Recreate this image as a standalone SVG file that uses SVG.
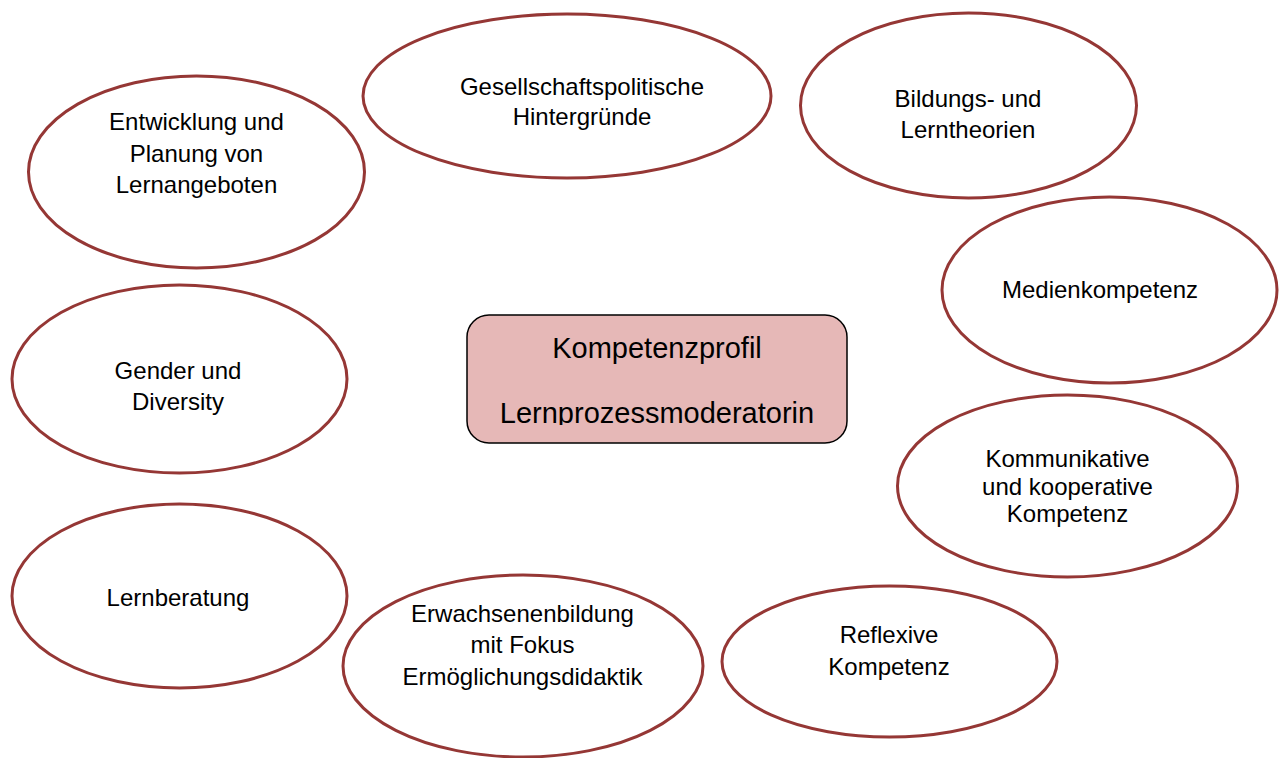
<svg xmlns="http://www.w3.org/2000/svg" width="1286" height="758" viewBox="0 0 1286 758">
<style>
.e{fill:#ffffff;stroke:#953735;stroke-width:3}
.t{font-family:"Liberation Sans",Arial,sans-serif;font-size:24px;fill:#000000;text-anchor:middle}
.c{font-family:"Liberation Sans",Arial,sans-serif;font-size:29px;fill:#000000;text-anchor:middle}
</style>
<defs>
<clipPath id="boxclip"><rect x="467" y="315" width="380" height="110"/></clipPath>
</defs>
<rect width="1286" height="758" fill="#ffffff"/>
<g id="connectors"></g>
<g id="n-gesellschaft">
<ellipse class="e" cx="567" cy="96" rx="204" ry="82"/>
<text class="t" x="582" y="95">Gesellschaftspolitische</text>
<text class="t" x="582" y="125">Hintergründe</text>
</g>
<g id="n-entwicklung">
<ellipse class="e" cx="196.5" cy="172" rx="168" ry="96"/>
<text class="t" x="196.5" y="130">Entwicklung und</text>
<text class="t" x="196.5" y="162">Planung von</text>
<text class="t" x="196.5" y="193">Lernangeboten</text>
</g>
<g id="n-bildung">
<ellipse class="e" cx="968.5" cy="105.5" rx="168" ry="92.5"/>
<text class="t" x="968" y="107">Bildungs- und</text>
<text class="t" x="968" y="138">Lerntheorien</text>
</g>
<g id="n-medien">
<ellipse class="e" cx="1109.5" cy="290" rx="167.5" ry="93"/>
<text class="t" x="1100" y="298">Medienkompetenz</text>
</g>
<g id="n-gender">
<ellipse class="e" cx="179.5" cy="379" rx="167.5" ry="94"/>
<text class="t" x="178" y="379">Gender und</text>
<text class="t" x="178" y="410">Diversity</text>
</g>
<g id="n-center">
<rect x="467" y="315" width="380" height="128" rx="22" ry="22" fill="#e6b8b7" stroke="#000000" stroke-width="1.5"/>
<g clip-path="url(#boxclip)">
<text class="c" x="657" y="358">Kompetenzprofil</text>
<text class="c" x="657" y="423">Lernprozessmoderatorin</text>
</g>
</g>
<g id="n-kommunikativ">
<ellipse class="e" cx="1067.5" cy="486" rx="170" ry="91"/>
<text class="t" x="1067.5" y="467">Kommunikative</text>
<text class="t" x="1067.5" y="495">und kooperative</text>
<text class="t" x="1067.5" y="522">Kompetenz</text>
</g>
<g id="n-lernberatung">
<ellipse class="e" cx="179.5" cy="596" rx="167.5" ry="92"/>
<text class="t" x="178" y="606">Lernberatung</text>
</g>
<g id="n-erwachsenen">
<ellipse class="e" cx="523" cy="666" rx="180" ry="91"/>
<text class="t" x="522.5" y="622">Erwachsenenbildung</text>
<text class="t" x="522.5" y="653">mit Fokus</text>
<text class="t" x="522.5" y="685">Ermöglichungsdidaktik</text>
</g>
<g id="n-reflexive">
<ellipse class="e" cx="889.5" cy="661.5" rx="167.5" ry="75.5"/>
<text class="t" x="889" y="643">Reflexive</text>
<text class="t" x="889" y="675">Kompetenz</text>
</g>
</svg>
